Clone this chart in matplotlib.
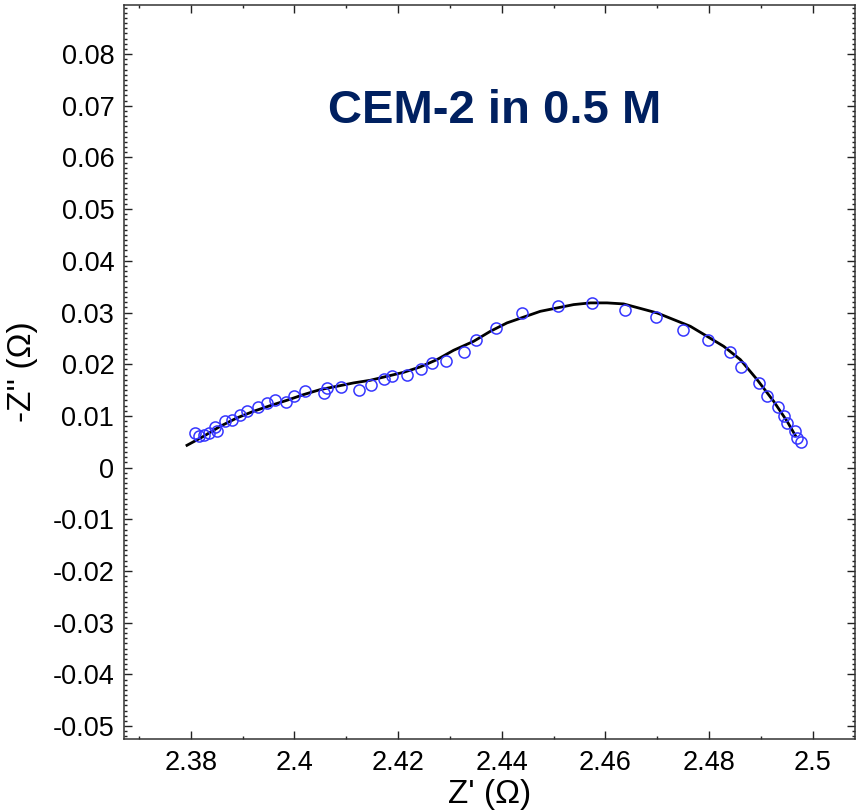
import numpy as np
import matplotlib
matplotlib.use("Agg")
import matplotlib.pyplot as plt
from matplotlib.ticker import MultipleLocator, FuncFormatter

plt.rcParams['font.family'] = ['Liberation Sans', 'DejaVu Sans']

# measured impedance points
z_re = [2.38085, 2.38162, 2.38259, 2.38355, 2.38471, 2.38510, 2.38664, 2.38793,
        2.38954, 2.39083, 2.39288, 2.39461, 2.39624, 2.39842, 2.40000, 2.40208,
        2.40575, 2.40620, 2.40890, 2.41245, 2.41483, 2.41720, 2.41888, 2.42164,
        2.42434, 2.42654, 2.42921, 2.43268, 2.43510, 2.43892, 2.44384, 2.45083,
        2.45735, 2.46386, 2.46984, 2.47496, 2.47975, 2.48398, 2.48622, 2.48960,
        2.49122, 2.49340, 2.49450, 2.49514, 2.49668, 2.49693, 2.49770]
z_im = [0.00667, 0.00609, 0.00629, 0.00677, 0.00793, 0.00716, 0.00899, 0.00913,
        0.01025, 0.01089, 0.01170, 0.01244, 0.01302, 0.01263, 0.01379, 0.01476,
        0.01451, 0.01542, 0.01551, 0.01495, 0.01605, 0.01716, 0.01780, 0.01793,
        0.01909, 0.02017, 0.02060, 0.02230, 0.02476, 0.02702, 0.02998, 0.03133,
        0.03186, 0.03043, 0.02907, 0.02669, 0.02468, 0.02234, 0.01954, 0.01638,
        0.01387, 0.01180, 0.00992, 0.00861, 0.00702, 0.00574, 0.00489]

# equivalent circuit fit
fit_re = [2.37925, 2.38245, 2.38568, 2.38890, 2.39210, 2.39533, 2.39855, 2.40176,
          2.40498, 2.40820, 2.41141, 2.41463, 2.41786, 2.42106, 2.42429, 2.42751,
          2.43071, 2.43458, 2.43780, 2.44102, 2.44745, 2.45388, 2.45710, 2.46033,
          2.46353, 2.46998, 2.47641, 2.47963, 2.48284, 2.48606, 2.48929, 2.49249,
          2.49508, 2.49668]
fit_im = [0.00431, 0.00605, 0.00799, 0.00961, 0.01089, 0.01199, 0.01302, 0.01412,
          0.01509, 0.01573, 0.01638, 0.01689, 0.01766, 0.01843, 0.01948, 0.02089,
          0.02269, 0.02443, 0.02636, 0.02799, 0.03023, 0.03153, 0.03186, 0.03186,
          0.03166, 0.02992, 0.02733, 0.02540, 0.02346, 0.02089, 0.01702, 0.01282,
          0.00896, 0.00619]

fig = plt.figure(figsize=(8.56, 8.10), dpi=100)
ax = fig.add_axes([0.1449, 0.0877, 0.8540, 0.9062])

ax.plot(fit_re, fit_im, color='black', lw=2.0, zorder=2,
        solid_joinstyle='round')
ax.plot(z_re, z_im, 'o', mfc='none', mec='#3636ff', ms=8, mew=1.1, zorder=3)

ax.set_xlim(2.3671, 2.5082)
ax.set_ylim(-0.0525, 0.0895)

ax.xaxis.set_major_locator(MultipleLocator(0.02))
ax.xaxis.set_minor_locator(MultipleLocator(0.01))
ax.yaxis.set_major_locator(MultipleLocator(0.01))
ax.yaxis.set_minor_locator(MultipleLocator(0.001))
fmt = FuncFormatter(lambda v, p: '%g' % (round(v, 4) + 0.0))
ax.xaxis.set_major_formatter(fmt)
ax.yaxis.set_major_formatter(fmt)

ax.tick_params(which='both', direction='in', top=True, right=True,
               width=1.0, colors='#222222', labelcolor='black')
ax.tick_params(which='major', length=6)
ax.tick_params(which='minor', length=2.5)
ax.tick_params(axis='y', which='major', labelsize=19.5, pad=7)
ax.tick_params(axis='x', which='major', labelsize=19.5, pad=8)
for sp in ax.spines.values():
    sp.set_linewidth(1.1)
    sp.set_color('#333333')

ax.set_xlabel("Z' (\u03a9)", fontsize=24)
ax.set_ylabel("-Z'' (\u03a9)", fontsize=24)
ax.xaxis.set_label_coords(0.5, -0.055)
ax.yaxis.set_label_coords(-0.118, 0.5)

ax.text(0.5075, 0.8392, 'CEM-2 in 0.5 M', transform=ax.transAxes,
        ha='center', va='baseline', fontsize=34, fontweight='bold',
        color='#002060')

fig.savefig('out.png', dpi=100)
